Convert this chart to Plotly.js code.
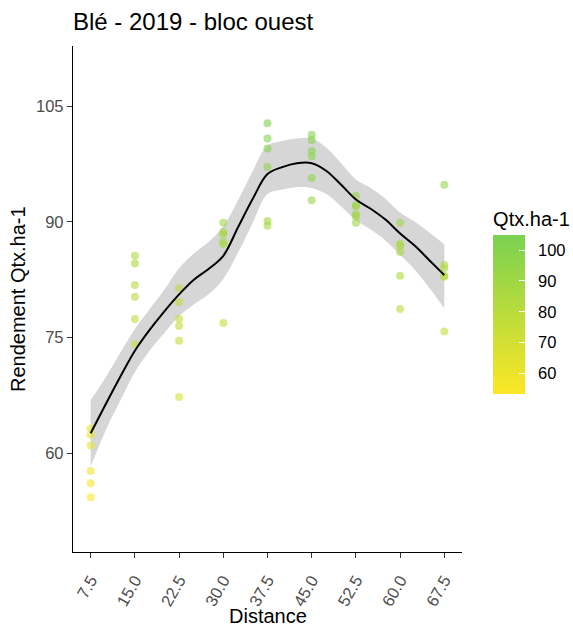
<!DOCTYPE html>
<html>
<head>
<meta charset="utf-8">
<script src="https://cdn.plot.ly/plotly-3.0.1.min.js"></script>
<style>html,body{margin:0;padding:0;background:#fff}#chart{width:573px;height:628px}</style>
</head>
<body>
<div id="chart"></div>
<script>
// Observed points
const pointDistance = [
  7.5,7.5,7.5,7.5,7.5,7.5,
  15,15,15,15,15,15,
  22.5,22.5,22.5,22.5,22.5,22.5,
  30,30,30,30,30,30,
  37.5,37.5,37.5,37.5,37.5,37.5,
  45,45,45,45,45,45,
  52.5,52.5,52.5,52.5,52.5,52.5,
  60,60,60,60,60,60,
  67.5,67.5,67.5,67.5,67.5,67.5
];
const pointYield = [
  63.2,62.4,61.0,57.7,56.1,54.3,
  85.6,84.6,81.8,80.3,77.4,74.1,
  81.4,79.6,77.4,76.5,74.6,67.3,
  89.9,88.7,88.4,87.4,87.1,76.9,
  102.8,100.8,99.5,97.1,90.1,89.5,
  101.3,100.6,99.2,98.5,95.7,92.8,
  93.4,92.2,92.0,91.0,90.7,89.9,
  89.9,87.2,86.9,86.1,83.0,78.7,
  94.8,84.4,84.0,83.0,82.9,75.8
];
// Smoothed trend and confidence band
const smoothDistance = [7.5,10,12.5,15,17.5,20,22.5,25,27.5,30,32.5,35,37.5,40,42.5,45,47.5,50,52.5,55,57.5,60,62.5,65,67.5];
const smoothYield = [62.6,66.3,69.9,73.3,76.0,78.4,80.6,82.5,83.9,85.6,89.3,93.0,96.2,97.1,97.6,97.6,96.6,94.8,92.9,91.7,90.3,88.5,86.9,85.0,83.1];
const bandLower = [58.3,62.9,66.8,70.5,73.3,75.6,77.8,79.3,80.6,82.6,86.0,89.9,93.6,94.2,94.5,94.4,93.6,92.0,90.2,89.0,87.6,85.7,83.8,81.4,78.8];
const bandUpper = [66.9,69.8,73.0,76.1,78.7,81.2,84.0,85.9,87.4,89.4,92.8,96.6,99.9,100.5,100.8,100.8,99.6,97.6,95.5,94.4,93.0,91.2,90.0,88.6,87.1];
const xTicks = [7.5,15,22.5,30,37.5,45,52.5,60,67.5];
const xTickLabels = ['7.5','15.0','22.5','30.0','37.5','45.0','52.5','60.0','67.5'];
const yTicks = [60,75,90,105];
const colorTicks = [60,70,80,90,100];

const FONT = 'Liberation Sans, Arial, sans-serif';
const traces = [
  {x: smoothDistance, y: bandLower, type:'scatter', mode:'lines', line:{width:0, shape:'spline'}, hoverinfo:'skip', showlegend:false},
  {x: smoothDistance, y: bandUpper, type:'scatter', mode:'lines', line:{width:0, shape:'spline'}, fill:'tonexty', fillcolor:'#D6D6D6', hoverinfo:'skip', showlegend:false},
  {x: pointDistance, y: pointYield, type:'scatter', mode:'markers', showlegend:false,
   marker:{size:8, opacity:0.6, color: pointYield, cmin:53.3, cmax:104.9,
     colorscale:[[0,'#FDE725'],[1,'#7AD151']],
     showscale:true,
     colorbar:{
       x:1.08, xanchor:'left', xref:'paper', y:(552-301)/506, yanchor:'middle', yref:'paper',
       len:186, lenmode:'pixels', thickness:32, thicknessmode:'pixels',
       outlinewidth:0, xpad:0, ypad:0,
       tickvals: colorTicks, ticktext: colorTicks.map(v => '\u00a0\u00a0' + v), ticks:'inside', ticklen:6, tickcolor:'#ffffff', tickwidth:1,
       tickfont:{family:FONT, size:16.5, color:'#000'},
       title:{text:'Qtx.ha-1', side:'top', font:{family:FONT, size:20, color:'#000'}}
     }}},
  {x: smoothDistance, y: smoothYield, type:'scatter', mode:'lines', line:{color:'#000', width:2, shape:'spline'}, showlegend:false}
];

const layout = {
  width:573, height:628,
  margin:{l:73, r:111, t:46, b:76, autoexpand:false},
  paper_bgcolor:'#fff', plot_bgcolor:'#fff',
  font:{family:FONT},
  title:{text:'Blé - 2019 - bloc ouest', x:73/573, xanchor:'left', xref:'container', y:1-22/628, yanchor:'middle', yref:'container',
    font:{family:FONT, size:24, color:'#000'}},
  xaxis:{range:[4.5,70.5], showgrid:false, zeroline:false, showline:true, linecolor:'#000', linewidth:1.2,
    tickvals:xTicks, ticktext:xTickLabels, ticks:'outside', ticklen:5, tickcolor:'#333', tickangle:-60,
    ticklabelstandoff:6, tickfont:{size:16.5, color:'#4D4D4D'}, automargin:false},
  yaxis:{range:[47.2,112.8], showgrid:false, zeroline:false, showline:true, linecolor:'#000', linewidth:1.2,
    tickvals:yTicks, ticks:'outside', ticklen:5, tickcolor:'#333',
    tickfont:{size:16.5, color:'#4D4D4D'}, automargin:false},
  annotations:[
    {text:'Distance', xref:'paper', yref:'paper', x:(268-73)/389, y:(552-616)/506, xanchor:'center', yanchor:'middle', showarrow:false,
     font:{size:20, color:'#000'}},
    {text:'Rendement Qtx.ha-1', xref:'paper', yref:'paper', x:(18-73)/389, y:0.5, xanchor:'center', yanchor:'middle', textangle:-90, showarrow:false,
     font:{size:20, color:'#000'}}
  ]
};
Plotly.newPlot('chart', traces, layout, {displayModeBar:false, staticPlot:true});
</script>
</body>
</html>
